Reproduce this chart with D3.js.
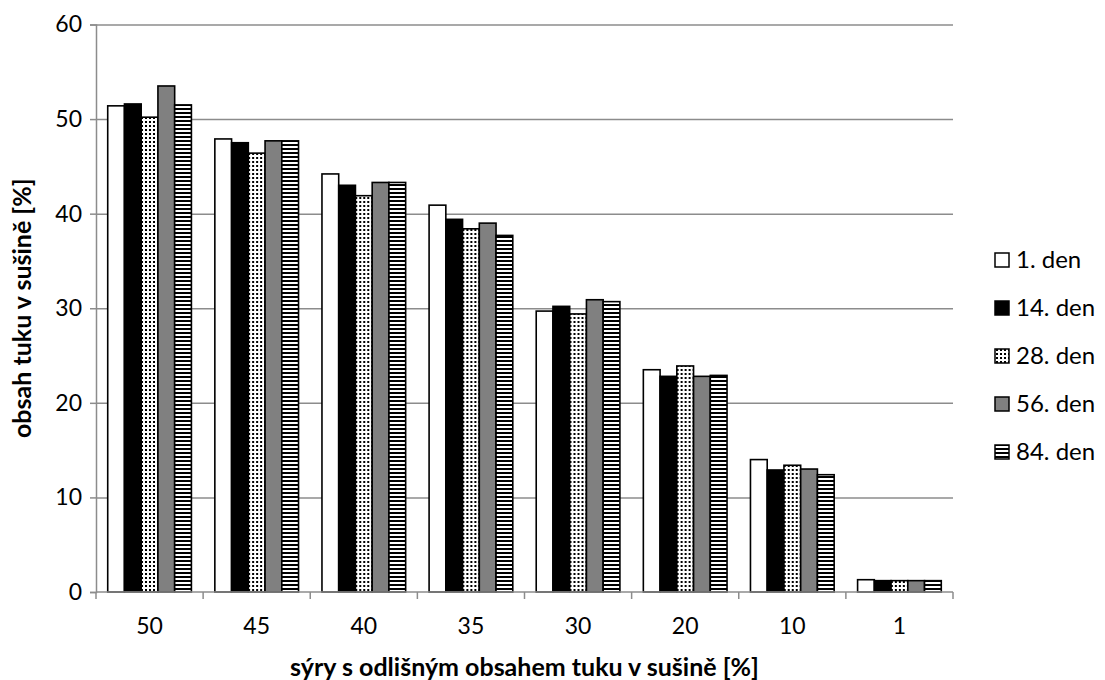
<!DOCTYPE html>
<html>
<head>
<meta charset="utf-8">
<script src="https://cdn.jsdelivr.net/npm/d3@7/dist/d3.min.js"></script>
<style>
  html, body { margin: 0; padding: 0; background: #fff; }
  svg { display: block; font-family: Lato, "Open Sans", sans-serif; }
</style>
</head>
<body>
<svg id="chart" width="1105" height="680"></svg>
<script>
// Fat content in dry matter of cheeses over the ripening period
const categories = ["50", "45", "40", "35", "30", "20", "10", "1"];
const seriesNames = ["1. den", "14. den", "28. den", "56. den", "84. den"];
const day1  = [51.4, 47.9, 44.2, 40.9, 29.7, 23.5, 14.0, 1.3];
const day14 = [51.6, 47.5, 43.0, 39.4, 30.2, 22.8, 12.9, 1.2];
const day28 = [50.2, 46.4, 41.9, 38.4, 29.4, 23.9, 13.4, 1.2];
const day56 = [53.5, 47.7, 43.3, 39.0, 30.9, 22.8, 13.0, 1.2];
const day84 = [51.5, 47.7, 43.3, 37.7, 30.7, 22.9, 12.4, 1.2];
const yTicks = [0, 10, 20, 30, 40, 50, 60];
const xTitle = "sýry s odlišným obsahem tuku v sušině [%]";
const yTitle = "obsah tuku v sušině [%]";

const seriesValues = [day1, day14, day28, day56, day84];
const fills = ["#ffffff", "#000000", "url(#dots)", "#808080", "url(#stripes)"];

const svg = d3.select("#chart");
const plotLeft = 96, plotRight = 953, plotTop = 24.5, plotBottom = 592;

// Fill patterns: dotted grid and horizontal stripes
const defs = svg.append("defs");
const dots = defs.append("pattern").attr("id", "dots")
  .attr("patternUnits", "userSpaceOnUse").attr("width", 4).attr("height", 4);
dots.append("rect").attr("width", 4).attr("height", 4).attr("fill", "#fff");
dots.append("rect").attr("x", 1).attr("y", 1).attr("width", 1.6).attr("height", 1.6)
  .attr("fill", "#000").attr("shape-rendering", "crispEdges");
const stripes = defs.append("pattern").attr("id", "stripes")
  .attr("patternUnits", "userSpaceOnUse").attr("width", 4).attr("height", 4);
stripes.append("rect").attr("width", 4).attr("height", 4).attr("fill", "#fff");
stripes.append("rect").attr("y", 0).attr("width", 4).attr("height", 2)
  .attr("fill", "#000").attr("shape-rendering", "crispEdges");

const x0 = d3.scaleBand().domain(categories).range([plotLeft, plotRight]).padding(0);
const x1 = d3.scaleBand().domain(seriesNames).range([0, x0.bandwidth()])
  .paddingInner(0).paddingOuter(0.7);
const y = d3.scaleLinear().domain([0, 60]).range([plotBottom, plotTop]);

const gridColor = "#8c8c8c";

// Horizontal gridlines
svg.append("g")
  .attr("transform", `translate(${plotLeft},0)`)
  .call(d3.axisLeft(y).tickValues(yTicks.filter(d => d > 0)).tickSize(-(plotRight - plotLeft)).tickFormat(""))
  .call(g => g.select(".domain").remove())
  .call(g => g.selectAll("line").attr("stroke", gridColor).attr("stroke-width", 1.5));

// Bars
const groups = svg.append("g").selectAll("g")
  .data(categories)
  .join("g")
  .attr("transform", d => `translate(${x0(d)},0)`);

groups.selectAll("rect")
  .data((c, i) => seriesNames.map((s, k) => ({ s, k, v: seriesValues[k][i] })))
  .join("rect")
  .attr("x", d => x1(d.s))
  .attr("y", d => y(d.v))
  .attr("width", x1.bandwidth())
  .attr("height", d => y(0) - y(d.v))
  .attr("fill", d => fills[d.k])
  .attr("stroke", "#000")
  .attr("stroke-width", 1.6);

// Y axis
svg.append("g")
  .attr("transform", `translate(${plotLeft},0)`)
  .call(d3.axisLeft(y).tickValues(yTicks).tickSize(6).tickPadding(8))
  .call(g => g.select(".domain").attr("stroke", gridColor).attr("stroke-width", 1.5))
  .call(g => g.selectAll("line").attr("stroke", gridColor).attr("stroke-width", 1.5))
  .call(g => g.selectAll("text").attr("font-size", 23).attr("fill", "#000")
    .attr("font-family", "Lato, sans-serif"));

// X axis: labels at category centres, ticks at category boundaries
const xAxis = svg.append("g").attr("transform", `translate(0,${plotBottom})`);
xAxis.call(d3.axisBottom(x0).tickSize(0).tickPadding(26))
  .call(g => g.select(".domain").attr("stroke", gridColor).attr("stroke-width", 1.5)
    .attr("d", `M${plotLeft},0H${plotRight}`))
  .call(g => g.selectAll("text").attr("font-size", 23).attr("fill", "#000")
    .attr("font-family", "Lato, sans-serif").attr("dy", "0.71em"));
const bounds = categories.map(c => x0(c)).concat([x0(categories[categories.length - 1]) + x0.bandwidth()]);
xAxis.selectAll("line.bound")
  .data(bounds)
  .join("line")
  .attr("class", "bound")
  .attr("x1", d => d).attr("x2", d => d)
  .attr("y1", 0).attr("y2", 7)
  .attr("stroke", gridColor).attr("stroke-width", 1.5);

// Axis titles
svg.append("text")
  .attr("x", (plotLeft + plotRight) / 2).attr("y", 676)
  .attr("text-anchor", "middle")
  .attr("font-size", 25).attr("font-weight", "bold")
  .text(xTitle);

svg.append("text")
  .attr("transform", `translate(31,${(plotTop + plotBottom) / 2}) rotate(-90)`)
  .attr("text-anchor", "middle")
  .attr("font-size", 25).attr("font-weight", "bold")
  .text(yTitle);

// Legend
const legend = svg.append("g").attr("transform", "translate(995,0)");
const items = legend.selectAll("g")
  .data(seriesNames)
  .join("g")
  .attr("transform", (d, i) => `translate(0,${260 + i * 48})`);
items.append("rect")
  .attr("x", 0).attr("y", -7).attr("width", 14).attr("height", 14)
  .attr("fill", (d, i) => fills[i])
  .attr("stroke", "#000").attr("stroke-width", 1.5);
items.append("text")
  .attr("x", 21).attr("y", 8)
  .attr("font-size", 24)
  .text(d => d);
</script>
</body>
</html>
